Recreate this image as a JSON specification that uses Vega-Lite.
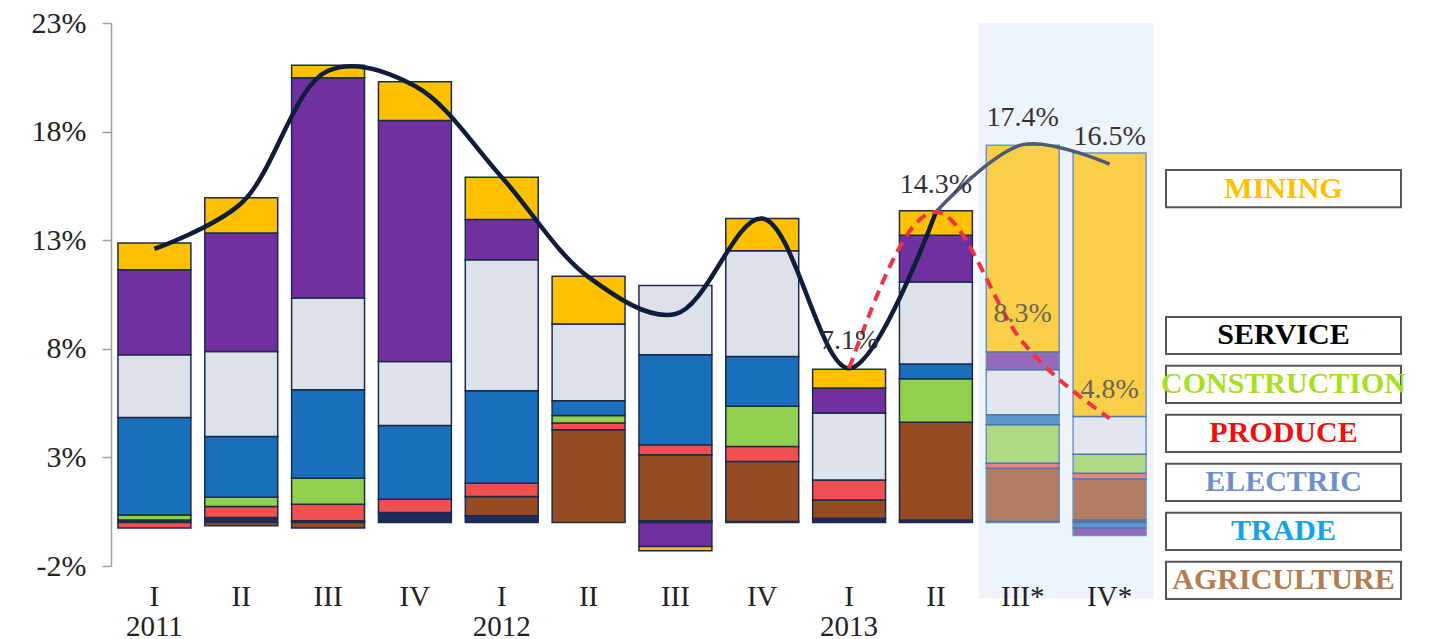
{
  "$schema": "https://vega.github.io/schema/vega-lite/v6.json",
  "background": "white",
  "padding": {"left": 31, "top": 8, "right": 0, "bottom": 0},
  "spacing": 6,
  "resolve": {"scale": {"color": "independent", "y": "independent", "x": "independent"}},
  "config": {"view": {"stroke": null}, "font": "Liberation Serif"},
  "datasets": {
    "bars": [
      {"q": "2011-I", "cat": "ELECTRIC", "v": 0.12},
      {"q": "2011-I", "cat": "PRODUCE", "v": -0.25},
      {"q": "2011-I", "cat": "CONSTRUCTION", "v": 0.23},
      {"q": "2011-I", "cat": "TRADE", "v": 4.49},
      {"q": "2011-I", "cat": "SERVICE", "v": 2.89},
      {"q": "2011-I", "cat": "OTHER", "v": 3.91},
      {"q": "2011-I", "cat": "MINING", "v": 1.23},
      {"q": "2011-II", "cat": "ELECTRIC", "v": 0.23},
      {"q": "2011-II", "cat": "AGRICULTURE", "v": -0.15},
      {"q": "2011-II", "cat": "PRODUCE", "v": 0.51},
      {"q": "2011-II", "cat": "CONSTRUCTION", "v": 0.43},
      {"q": "2011-II", "cat": "TRADE", "v": 2.79},
      {"q": "2011-II", "cat": "SERVICE", "v": 3.92},
      {"q": "2011-II", "cat": "OTHER", "v": 5.45},
      {"q": "2011-II", "cat": "MINING", "v": 1.62},
      {"q": "2011-III", "cat": "ELECTRIC", "v": 0.08},
      {"q": "2011-III", "cat": "AGRICULTURE", "v": -0.25},
      {"q": "2011-III", "cat": "PRODUCE", "v": 0.76},
      {"q": "2011-III", "cat": "CONSTRUCTION", "v": 1.2},
      {"q": "2011-III", "cat": "TRADE", "v": 4.07},
      {"q": "2011-III", "cat": "SERVICE", "v": 4.23},
      {"q": "2011-III", "cat": "OTHER", "v": 10.14},
      {"q": "2011-III", "cat": "MINING", "v": 0.58},
      {"q": "2011-IV", "cat": "ELECTRIC", "v": 0.46},
      {"q": "2011-IV", "cat": "PRODUCE", "v": 0.61},
      {"q": "2011-IV", "cat": "TRADE", "v": 3.4},
      {"q": "2011-IV", "cat": "SERVICE", "v": 2.95},
      {"q": "2011-IV", "cat": "OTHER", "v": 11.09},
      {"q": "2011-IV", "cat": "MINING", "v": 1.78},
      {"q": "2012-I", "cat": "ELECTRIC", "v": 0.31},
      {"q": "2012-I", "cat": "AGRICULTURE", "v": 0.89},
      {"q": "2012-I", "cat": "PRODUCE", "v": 0.61},
      {"q": "2012-I", "cat": "TRADE", "v": 4.26},
      {"q": "2012-I", "cat": "SERVICE", "v": 6.03},
      {"q": "2012-I", "cat": "OTHER", "v": 1.85},
      {"q": "2012-I", "cat": "MINING", "v": 1.95},
      {"q": "2012-II", "cat": "AGRICULTURE", "v": 4.27},
      {"q": "2012-II", "cat": "PRODUCE", "v": 0.31},
      {"q": "2012-II", "cat": "CONSTRUCTION", "v": 0.35},
      {"q": "2012-II", "cat": "TRADE", "v": 0.68},
      {"q": "2012-II", "cat": "SERVICE", "v": 3.53},
      {"q": "2012-II", "cat": "MINING", "v": 2.2},
      {"q": "2012-III", "cat": "ELECTRIC", "v": 0.08},
      {"q": "2012-III", "cat": "AGRICULTURE", "v": 3.04},
      {"q": "2012-III", "cat": "PRODUCE", "v": 0.46},
      {"q": "2012-III", "cat": "TRADE", "v": 4.15},
      {"q": "2012-III", "cat": "SERVICE", "v": 3.19},
      {"q": "2012-III", "cat": "OTHER", "v": -1.1},
      {"q": "2012-III", "cat": "MINING", "v": -0.2},
      {"q": "2012-IV", "cat": "ELECTRIC", "v": 0.05},
      {"q": "2012-IV", "cat": "AGRICULTURE", "v": 2.76},
      {"q": "2012-IV", "cat": "PRODUCE", "v": 0.69},
      {"q": "2012-IV", "cat": "CONSTRUCTION", "v": 1.85},
      {"q": "2012-IV", "cat": "TRADE", "v": 2.3},
      {"q": "2012-IV", "cat": "SERVICE", "v": 4.87},
      {"q": "2012-IV", "cat": "MINING", "v": 1.48},
      {"q": "2013-I", "cat": "ELECTRIC", "v": 0.2},
      {"q": "2013-I", "cat": "AGRICULTURE", "v": 0.84},
      {"q": "2013-I", "cat": "PRODUCE", "v": 0.92},
      {"q": "2013-I", "cat": "SERVICE", "v": 3.08},
      {"q": "2013-I", "cat": "OTHER", "v": 1.15},
      {"q": "2013-I", "cat": "MINING", "v": 0.87},
      {"q": "2013-II", "cat": "ELECTRIC", "v": 0.12},
      {"q": "2013-II", "cat": "AGRICULTURE", "v": 4.5},
      {"q": "2013-II", "cat": "CONSTRUCTION", "v": 2.0},
      {"q": "2013-II", "cat": "TRADE", "v": 0.68},
      {"q": "2013-II", "cat": "SERVICE", "v": 3.77},
      {"q": "2013-II", "cat": "OTHER", "v": 2.16},
      {"q": "2013-II", "cat": "MINING", "v": 1.13},
      {"q": "2013-III*", "cat": "ELECTRIC", "v": 0.05},
      {"q": "2013-III*", "cat": "AGRICULTURE", "v": 2.45},
      {"q": "2013-III*", "cat": "PRODUCE", "v": 0.23},
      {"q": "2013-III*", "cat": "CONSTRUCTION", "v": 1.77},
      {"q": "2013-III*", "cat": "TRADE", "v": 0.46},
      {"q": "2013-III*", "cat": "SERVICE", "v": 2.08},
      {"q": "2013-III*", "cat": "OTHER", "v": 0.81},
      {"q": "2013-III*", "cat": "MINING", "v": 9.52},
      {"q": "2013-IV*", "cat": "ELECTRIC", "v": 0.12},
      {"q": "2013-IV*", "cat": "AGRICULTURE", "v": 1.89},
      {"q": "2013-IV*", "cat": "PRODUCE", "v": 0.26},
      {"q": "2013-IV*", "cat": "CONSTRUCTION", "v": 0.88},
      {"q": "2013-IV*", "cat": "TRADE", "v": -0.25},
      {"q": "2013-IV*", "cat": "SERVICE", "v": 1.73},
      {"q": "2013-IV*", "cat": "OTHER", "v": -0.35},
      {"q": "2013-IV*", "cat": "MINING", "v": 12.14}
    ],
    "lines": [
      {"q": "2011-I", "series": "total", "v": 12.6},
      {"q": "2011-II", "series": "total", "v": 14.7},
      {"q": "2011-III", "series": "total", "v": 20.8},
      {"q": "2011-IV", "series": "total", "v": 20.1},
      {"q": "2012-I", "series": "total", "v": 15.9},
      {"q": "2012-II", "series": "total", "v": 11.3},
      {"q": "2012-III", "series": "total", "v": 9.6},
      {"q": "2012-IV", "series": "total", "v": 14.0},
      {"q": "2013-I", "series": "total", "v": 7.1},
      {"q": "2013-II", "series": "total", "v": 14.3},
      {"q": "2013-III*", "series": "total", "v": 17.4},
      {"q": "2013-IV*", "series": "total", "v": 16.5},
      {"q": "2013-I", "series": "nonmining", "v": 7.1},
      {"q": "2013-II", "series": "nonmining", "v": 14.3},
      {"q": "2013-III*", "series": "nonmining", "v": 8.3},
      {"q": "2013-IV*", "series": "nonmining", "v": 4.8}
    ],
    "forecast": [{"q": "2013-III*"}, {"q": "2013-IV*"}],
    "legend": [
      {"label": "MINING"},
      {"label": "SERVICE"},
      {"label": "CONSTRUCTION"},
      {"label": "PRODUCE"},
      {"label": "ELECTRIC"},
      {"label": "TRADE"},
      {"label": "AGRICULTURE"}
    ]
  },
  "hconcat": [
    {
      "width": 1042,
      "height": 543,
      "layer": [
        {
          "data": {"name": "forecast"},
          "mark": {"type": "bar", "fill": "#eef4fb", "width": {"band": 1.21}},
          "encoding": {
            "x": {
              "field": "q", "type": "nominal",
              "scale": {
                "domain": ["2011-I","2011-II","2011-III","2011-IV","2012-I","2012-II","2012-III","2012-IV","2013-I","2013-II","2013-III*","2013-IV*"],
                "paddingInner": 0.16, "paddingOuter": 0.08
              },
              "axis": {
                "title": null, "domain": false, "ticks": false, "zindex": 2,
                "labelAngle": 0, "labelFontSize": 29, "labelColor": "#222",
                "labelPadding": 16, "labelLineHeight": 30,
                "labelExpr": "split(datum.label,'-')[1] == 'I' ? [split(datum.label,'-')[1], split(datum.label,'-')[0]] : split(datum.label,'-')[1]"
              }
            },
            "y": {"datum": 23, "type": "quantitative"},
            "y2": {"datum": -3.5}
          }
        },
        {
          "mark": {"type": "rule", "color": "#a0a0a0", "strokeWidth": 1.5},
          "encoding": {"y": {"datum": 0, "type": "quantitative"}}
        },
        {
          "data": {"name": "bars"},
          "transform": [
            {"calculate": "indexof(['ELECTRIC','AGRICULTURE','PRODUCE','CONSTRUCTION','TRADE','SERVICE','OTHER','MINING'], datum.cat)", "as": "stackrank"}
          ],
          "mark": {"type": "bar", "strokeWidth": 1.5},
          "encoding": {
            "x": {"field": "q", "type": "nominal"},
            "y": {
              "field": "v", "type": "quantitative", "stack": "zero",
              "scale": {"domain": [-2, 23], "nice": false, "zero": false},
              "axis": {
                "title": null, "values": [-2, 3, 8, 13, 18, 23], "grid": false,
                "labelExpr": "datum.value + '%'", "labelFontSize": 30, "labelColor": "#222",
                "labelPadding": 16, "tickSize": 9, "tickColor": "#a0a0a0",
                "domainColor": "#a0a0a0", "domainWidth": 1.5, "tickWidth": 1.5
              }
            },
            "order": {"field": "stackrank", "type": "quantitative", "sort": "ascending"},
            "color": {
              "field": "cat", "type": "nominal",
              "scale": {
                "domain": ["MINING","OTHER","SERVICE","TRADE","CONSTRUCTION","PRODUCE","AGRICULTURE","ELECTRIC"],
                "range": ["#ffc000","#7030a0","#dde1ea","#1a6fbd","#92d050","#f05050","#964b22","#1f2a5e"]
              },
              "legend": null
            },
            "stroke": {"condition": {"test": "indexof(datum.q,'*') >= 0", "value": "#3f6aa5"}, "value": "#1c2b4a"},
            "opacity": {"condition": {"test": "indexof(datum.q,'*') >= 0", "value": 0.7}, "value": 1}
          }
        },
        {
          "data": {"name": "lines"},
          "transform": [{"filter": "datum.series == 'total' && indexof(datum.q,'*') < 0"}],
          "mark": {"type": "line", "color": "#0e1d3a", "strokeWidth": 4.5, "interpolate": "catmull-rom"},
          "encoding": {
            "x": {"field": "q", "type": "nominal"},
            "y": {"field": "v", "type": "quantitative"}
          }
        },
        {
          "data": {"name": "lines"},
          "transform": [{"filter": "datum.series == 'total' && (datum.q == '2013-II' || indexof(datum.q,'*') >= 0)"}],
          "mark": {"type": "line", "color": "#4b5b78", "strokeWidth": 3.5, "interpolate": "catmull-rom"},
          "encoding": {
            "x": {"field": "q", "type": "nominal"},
            "y": {"field": "v", "type": "quantitative"}
          }
        },
        {
          "data": {"name": "lines"},
          "transform": [{"filter": "datum.series == 'nonmining'"}],
          "mark": {"type": "line", "color": "#ee3344", "strokeWidth": 4, "strokeDash": [11, 7], "interpolate": "monotone"},
          "encoding": {
            "x": {"field": "q", "type": "nominal"},
            "y": {"field": "v", "type": "quantitative"}
          }
        },
        {
          "data": {"name": "lines"},
          "transform": [
            {"filter": "datum.series == 'total' && (datum.q == '2013-I' || datum.q == '2013-II' || indexof(datum.q,'*') >= 0)"},
            {"calculate": "format(datum.v, '.1f') + '%'", "as": "lab"}
          ],
          "mark": {"type": "text", "fontSize": 28, "dy": -27, "color": "#333333"},
          "encoding": {
            "x": {"field": "q", "type": "nominal"},
            "y": {"field": "v", "type": "quantitative"},
            "text": {"field": "lab"}
          }
        },
        {
          "data": {"name": "lines"},
          "transform": [
            {"filter": "datum.series == 'nonmining' && indexof(datum.q,'*') >= 0"},
            {"calculate": "format(datum.v, '.1f') + '%'", "as": "lab"}
          ],
          "mark": {"type": "text", "fontSize": 28, "dy": -28, "color": "#6b6550"},
          "encoding": {
            "x": {"field": "q", "type": "nominal"},
            "y": {"field": "v", "type": "quantitative"},
            "text": {"field": "lab"}
          }
        }
      ]
    },
    {
      "width": 235,
      "height": 576,
      "data": {"name": "legend"},
      "layer": [
        {
          "mark": {"type": "rect", "fill": "white", "stroke": "#555555", "strokeWidth": 2},
          "encoding": {
            "y": {
              "field": "label", "type": "nominal",
              "scale": {
                "domain": ["g0","g1","g2","MINING","g3","g4","SERVICE","CONSTRUCTION","PRODUCE","ELECTRIC","TRADE","AGRICULTURE"],
                "paddingInner": 0.24, "paddingOuter": -0.1
              },
              "axis": null
            }
          }
        },
        {
          "mark": {"type": "text", "fontSize": 30, "fontWeight": "bold", "font": "Liberation Serif"},
          "encoding": {
            "y": {"field": "label", "type": "nominal"},
            "text": {"field": "label"},
            "color": {
              "field": "label", "type": "nominal",
              "scale": {
                "domain": ["MINING","SERVICE","CONSTRUCTION","PRODUCE","ELECTRIC","TRADE","AGRICULTURE"],
                "range": ["#ffc000","#000000","#a6e01f","#f01010","#6f8fca","#14a3ea","#b47c50"]
              },
              "legend": null
            }
          }
        }
      ]
    }
  ]
}
